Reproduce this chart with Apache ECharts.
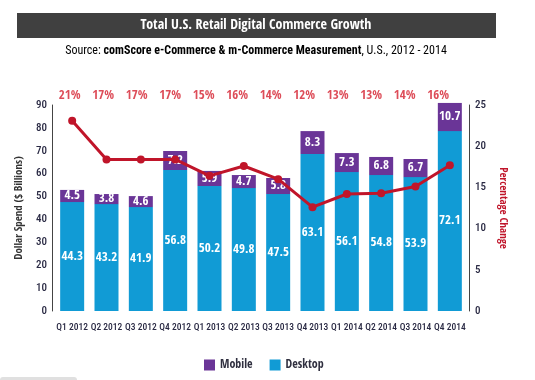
<!DOCTYPE html>
<html><head><meta charset="utf-8">
<script src="https://cdn.jsdelivr.net/npm/echarts@6/dist/echarts.min.js"></script>
<style>html,body{margin:0;padding:0;background:#fff}#c{width:535px;height:380px}</style>
</head><body><div id="c"></div>
<script>
var categories = ['Q1 2012','Q2 2012','Q3 2012','Q4 2012','Q1 2013','Q2 2013','Q3 2013','Q4 2013','Q1 2014','Q2 2014','Q3 2014','Q4 2014'];
// bar heights as drawn in the picture
var desktopHeights = [47.6, 46.7, 45.4, 61.6, 54.6, 53.7, 51.1, 68.6, 60.7, 59.4, 58.5, 78.6];
var mobileHeights  = [5.3, 4.4, 4.8, 8.3, 6.6, 5.7, 7.0, 10.0, 8.3, 7.9, 7.9, 12.3];
// values printed on the bars
var desktopLabels = [44.3, 43.2, 41.9, 56.8, 50.2, 49.8, 47.5, 63.1, 56.1, 54.8, 53.9, 72.1];
var mobileLabels  = [4.5, 3.8, 4.6, 7.2, 5.9, 4.7, 5.8, 8.3, 7.3, 6.8, 6.7, 10.7];
// percentage change line (as drawn) and printed labels
var pctLine   = [23.1, 18.4, 18.4, 18.4, 16.4, 17.6, 16.0, 12.6, 14.2, 14.3, 15.1, 17.7];
var pctLabels = [21, 17, 17, 17, 15, 16, 14, 12, 13, 13, 14, 16];
var leftTicks = [0, 90, 10];
var rightTicks = [0, 25, 5];

var BOLD = '"Open Sans Condensed","Roboto Condensed",sans-serif';
var REG = '"Roboto Condensed",sans-serif';
var chart = echarts.init(document.getElementById('c'));
chart.setOption({
  animation: false,
  textStyle: {fontFamily: REG},
  graphic: [
    {type: 'rect', shape: {x: 17, y: 13, width: 479, height: 25}, style: {fill: '#404040'}},
    {type: 'text', x: 256, y: 25.5, style: {text: 'Total U.S. Retail Digital Commerce Growth', fill: '#fff', font: 'bold 14px ' + BOLD, textAlign: 'center', textVerticalAlign: 'middle'}},
    {type: 'text', x: 256, y: 51, style: {
      text: '{n|Source: }{b|comScore e-Commerce & m-Commerce Measurement}{n|, U.S., 2012 - 2014}',
      textAlign: 'center', textVerticalAlign: 'middle',
      rich: {n: {fontFamily: REG, fontSize: 12, color: '#444'}, b: {fontFamily: REG, fontSize: 12, fontWeight: 'bold', color: '#333'}}
    }},
    {type: 'rect', shape: {x: 0, y: 377, width: 77, height: 6, r: 3}, style: {fill: '#e0e0e0'}}
  ],
  legend: {
    data: ['Mobile', 'Desktop'], left: 199, top: 354, itemWidth: 11, itemHeight: 11, itemGap: 17, icon: 'rect',
    textStyle: {fontFamily: BOLD, fontSize: 12, fontWeight: 'bold', color: '#2f2f3f'}
  },
  grid: [
    {left: 55, right: 68, top: 105, bottom: 69},
    {left: 53, right: 80, top: 90, height: 12}
  ],
  xAxis: [
    {type: 'category', data: categories, gridIndex: 0,
     axisLine: {show: false}, axisTick: {show: false},
     axisLabel: {interval: 0, margin: 12, fontSize: 9.5, fontWeight: 500, color: '#2a2a44', fontFamily: REG}},
    {type: 'category', data: categories, gridIndex: 1, show: false}
  ],
  yAxis: [
    {type: 'value', min: leftTicks[0], max: leftTicks[1], interval: leftTicks[2], gridIndex: 0, offset: 3,
     name: 'Dollar Spend ($ Billions)', nameLocation: 'middle', nameGap: 22, nameRotate: 90,
     nameTextStyle: {fontFamily: BOLD, fontSize: 11, fontWeight: 'bold', color: '#333'},
     axisLine: {show: true, lineStyle: {color: '#444', width: 1}}, axisTick: {show: false}, splitLine: {show: false},
     axisLabel: {margin: 5, fontSize: 11, fontWeight: 500, color: '#2a2a44', fontFamily: REG}},
    {type: 'value', min: rightTicks[0], max: rightTicks[1], interval: rightTicks[2], gridIndex: 0, position: 'right', offset: 2,
     name: 'Percentage Change', nameLocation: 'middle', nameGap: 21, nameRotate: -90,
     nameTextStyle: {fontFamily: BOLD, fontSize: 11, fontWeight: 'bold', color: '#c0152a'},
     axisLine: {show: true, lineStyle: {color: '#444', width: 1}}, axisTick: {show: false}, splitLine: {show: false},
     axisLabel: {margin: 6, fontSize: 11, fontWeight: 500, color: '#2a2a44', fontFamily: REG}},
    {type: 'value', gridIndex: 1, show: false, min: 0, max: 1}
  ],
  series: [
    {name: 'Desktop', type: 'bar', stack: 's', barWidth: 24, clip: false, data: desktopHeights,
     itemStyle: {color: '#119bd5'},
     label: {show: true, position: 'inside', color: '#fff', fontWeight: 'bold', fontSize: 13, fontFamily: BOLD,
       formatter: function (p) { return desktopLabels[p.dataIndex].toFixed(1); }}},
    {name: 'Mobile', type: 'bar', stack: 's', barWidth: 24, clip: false, data: mobileHeights,
     itemStyle: {color: '#6a3597'},
     label: {show: true, position: 'inside', color: '#fff', fontWeight: 'bold', fontSize: 13, fontFamily: BOLD,
       formatter: function (p) { return mobileLabels[p.dataIndex].toFixed(1); }}},
    {name: 'Change', type: 'line', yAxisIndex: 1, data: pctLine, z: 5,
     symbol: 'circle', symbolSize: 8, lineStyle: {color: '#c0152a', width: 3}, itemStyle: {color: '#c0152a'}},
    {name: 'pct', type: 'scatter', xAxisIndex: 1, yAxisIndex: 2, symbolSize: 0,
     data: pctLabels.map(function () { return 0.5; }),
     label: {show: true, position: 'inside', color: '#d42030', fontWeight: 'bold', fontSize: 13, fontFamily: BOLD,
       formatter: function (p) { return pctLabels[p.dataIndex] + '%'; }}}
  ]
});
</script></body></html>
